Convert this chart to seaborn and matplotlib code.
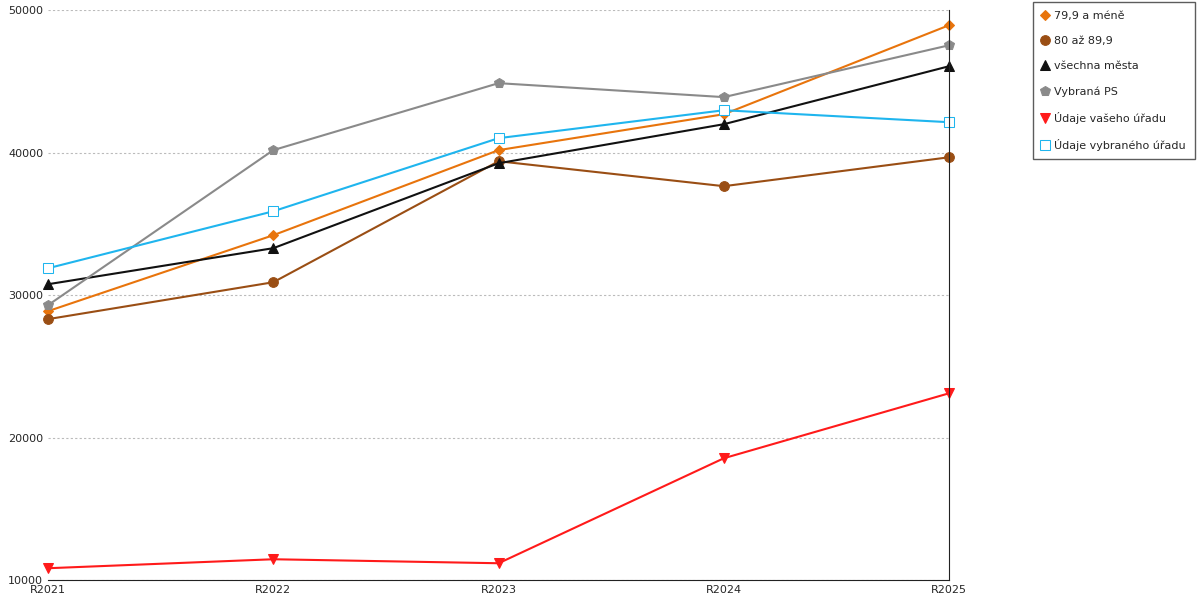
import pandas as pd
import matplotlib.pyplot as plt
import seaborn as sns

years = ["R2021", "R2022", "R2023", "R2024", "R2025"]
s_799 = [28880, 34210, 40180, 42700, 48950]
s_80 = [28320, 30910, 39400, 37650, 39680]
s_all = [30770, 33300, 39260, 42000, 46070]
s_ps = [29300, 40180, 44880, 43900, 47540]
s_vas = [10840, 11470, 11190, 18560, 23120]
s_vyb = [31890, 35890, 41020, 42980, 42140]

names = ["79,9 a méně", "80 až 89,9", "všechna města", "Vybraná PS",
         "Údaje vašeho úřadu", "Údaje vybraného úřadu"]
series = [s_799, s_80, s_all, s_ps, s_vas, s_vyb]
colors = ["#E8740C", "#9A4E14", "#111111", "#8A8A8A", "#FF1A1A", "#1FB5EE"]
markers = ["D", "o", "^", "p", "v", "s"]
msizes = [5, 7, 7, 7, 7, 7]

rows = []
for n, vals in zip(names, series):
    for i, v in enumerate(vals):
        rows.append({"x": i, "val": v, "serie": n})
df = pd.DataFrame(rows)

sns.set_style("white")
plt.rcParams['font.family'] = ['DejaVu Sans']
fig = plt.figure(figsize=(12, 6), dpi=100)
ax = fig.add_axes([0.04, 0.033, 0.751, 0.95])

for n, c, m, ms in zip(names, colors, markers, msizes):
    d = df[df.serie == n]
    face = "white" if m == "s" else c
    sns.lineplot(data=d, x="x", y="val", color=c, marker=m, markersize=ms,
                 markerfacecolor=face, markeredgecolor=c, linewidth=1.5,
                 label=n, ax=ax, clip_on=False)

ax.set_xlim(0, 4)
ax.set_ylim(10000, 50000)
ax.set_yticks([10000, 20000, 30000, 40000, 50000])
ax.set_xticks(range(5))
ax.set_xticklabels(years)
ax.set_xticks([0.5, 1.5, 2.5, 3.5], minor=True)
ax.tick_params(axis="x", which="minor", length=5, direction="out", color="#333333")
ax.tick_params(axis="x", which="major", length=0, labelsize=8)
ax.tick_params(axis="y", length=0, labelsize=8)
ax.grid(axis="y", linestyle=(0, (2, 2)), color="#bbbbbb", linewidth=0.8)
ax.set_xlabel("")
ax.set_ylabel("")
for s in ["top", "left"]:
    ax.spines[s].set_visible(False)
ax.spines["right"].set_color("#222222")
ax.spines["bottom"].set_color("#222222")

leg = ax.legend(loc="upper left", bbox_to_anchor=(1.093, 1.014), frameon=True,
                fancybox=False, edgecolor="#333333", fontsize=8,
                handlelength=0.6, handletextpad=0.5, labelspacing=1.35,
                borderpad=0.8, borderaxespad=0)
for h in leg.get_lines():
    h.set_linestyle("")

fig.savefig("out.png", dpi=100)
